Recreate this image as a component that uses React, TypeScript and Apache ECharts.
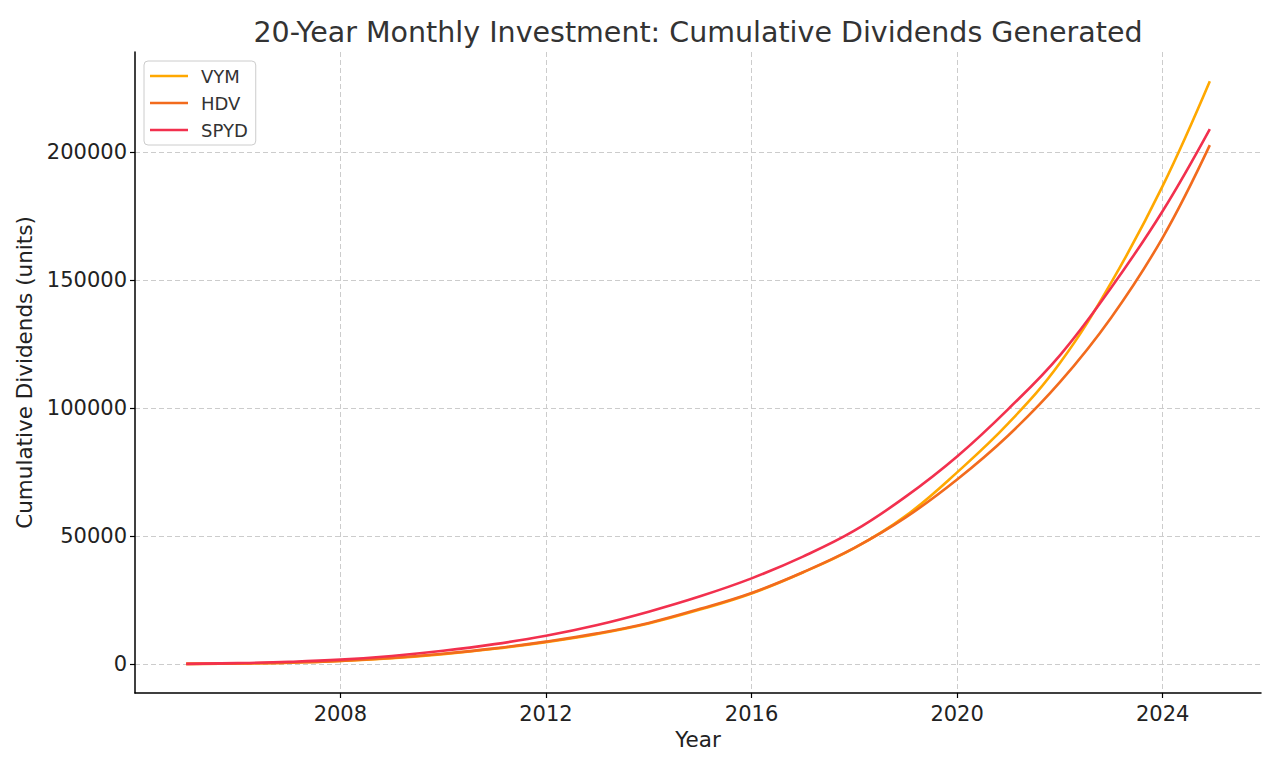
import React, { useEffect, useRef } from "react";
import * as echarts from "echarts";

const years = [2005, 2006, 2007, 2008, 2009, 2010, 2011, 2012, 2013, 2014, 2015, 2016, 2017, 2018, 2019, 2020, 2021, 2022, 2023, 2024, 2024.917];
const vymValues = [0, 150, 450, 1100, 2200, 3800, 5900, 8500, 11700, 15800, 21200, 27500, 35700, 45200, 57800, 74800, 94000, 117500, 149000, 186700, 227600];
const hdvValues = [0, 160, 480, 1150, 2300, 3950, 6050, 8700, 11900, 16000, 21500, 27700, 35800, 45300, 57200, 72000, 89300, 110000, 135300, 166500, 202600];
const spydValues = [0, 300, 800, 1650, 3100, 5100, 7700, 11000, 15200, 20400, 26400, 33400, 41900, 52000, 65300, 81000, 99600, 120500, 147000, 176900, 208900];
const xTicks = [2008, 2012, 2016, 2020, 2024];
const yTicks = [0, 50000, 100000, 150000, 200000];
const seriesNames = ["VYM", "HDV", "SPYD"];
const seriesColors = ["#FFA800", "#F26B1D", "#F2304E"];

const FONT = "DejaVu Sans";

export default function App() {
  const ref = useRef<HTMLDivElement>(null);
  useEffect(() => {
    if (!ref.current) return;
    const chart = echarts.init(ref.current, undefined, { renderer: "svg" });
    const all = [vymValues, hdvValues, spydValues];
    const maxV = Math.max(...all.flat());
    const minV = Math.min(...all.flat());
    const yPad = (maxV - minV) * 0.05;
    const xPad = (years[years.length - 1] - years[0]) * 0.05;
    chart.setOption({
      animation: false,
      backgroundColor: "#ffffff",
      textStyle: { fontFamily: FONT },
      graphic: [
        {
          type: "text",
          x: 698,
          y: 32,
          style: {
            text: "20-Year Monthly Investment: Cumulative Dividends Generated",
            fontFamily: FONT,
            fontSize: 28.5,
            fill: "#333333",
            textAlign: "center",
            textVerticalAlign: "middle",
          },
        },
      ],
      legend: {
        left: 144,
        top: 61,
        orient: "vertical",
        data: seriesNames,
        icon: "rect",
        itemWidth: 38,
        itemHeight: 2.6,
        itemGap: 9,
        padding: [6, 8, 6, 6],
        borderColor: "#cccccc",
        borderWidth: 1,
        borderRadius: 4,
        backgroundColor: "rgba(255,255,255,0.8)",
        textStyle: { fontFamily: FONT, fontSize: 18, color: "#333333", lineHeight: 18, padding: [0, 0, 0, 8] },
      },
      grid: { left: 135, right: 19, top: 52, bottom: 75, containLabel: false },
      xAxis: {
        type: "value",
        min: years[0] - xPad,
        max: years[years.length - 1] + xPad,
        name: "Year",
        nameLocation: "middle",
        nameGap: 33,
        nameTextStyle: { fontFamily: FONT, fontSize: 21.5, color: "#222222" },
        axisLine: { show: true, onZero: false, lineStyle: { color: "#000000", width: 1.5 } },
        axisTick: { show: true, length: 5, inside: false, customValues: xTicks, lineStyle: { color: "#000000", width: 1.2 } },
        axisLabel: { customValues: xTicks, fontFamily: FONT, fontSize: 21, color: "#222222", margin: 10, formatter: (v: number) => String(v) },
        splitLine: { show: true, lineStyle: { color: "#cccccc", type: [5, 3], width: 1 } },
      },
      yAxis: {
        type: "value",
        min: minV - yPad,
        max: maxV + yPad,
        name: "Cumulative Dividends (units)",
        nameLocation: "middle",
        nameGap: 94,
        nameTextStyle: { fontFamily: FONT, fontSize: 21.5, color: "#222222" },
        axisLine: { show: true, onZero: false, lineStyle: { color: "#000000", width: 1.5 } },
        axisTick: { show: true, length: 5, inside: false, customValues: yTicks, lineStyle: { color: "#000000", width: 1.2 } },
        axisLabel: { customValues: yTicks, fontFamily: FONT, fontSize: 21, color: "#222222", margin: 8, formatter: (v: number) => String(v) },
        splitLine: { show: true, lineStyle: { color: "#cccccc", type: [5, 3], width: 1 } },
      },
      series: all.map((vals, i) => ({
        name: seriesNames[i],
        type: "line",
        data: years.map((x, j) => [x, vals[j]]),
        smooth: 0.4,
        showSymbol: false,
        symbol: "none",
        lineStyle: { color: seriesColors[i], width: 2.6 },
        itemStyle: { color: seriesColors[i] },
        z: 2 + i,
      })),
    });
    return () => chart.dispose();
  }, []);
  return <div ref={ref} style={{ position: "fixed", left: 0, top: 0, width: 1280, height: 768 }} />;
}
